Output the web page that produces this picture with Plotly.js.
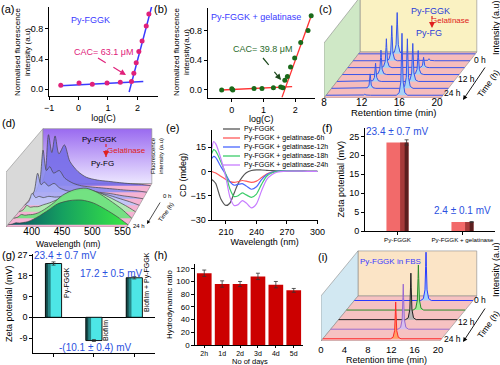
<!DOCTYPE html>
<html><head><meta charset="utf-8">
<script src="https://cdn.plot.ly/plotly-3.0.1.min.js"></script>
<style>html,body{margin:0;padding:0;background:#fff}#chart{width:500px;height:365px}</style>
</head><body><div id="chart"></div>
<script>
// ================= DATA =================
// (a) CAC of Py-FGGK
const aLogC = [-0.6, 0.02, 0.47, 0.97, 1.42, 1.80, 1.88, 1.96, 2.05, 2.16, 2.30, 2.39];
const aIntensity = [0.05, 0.08, 0.065, 0.08, 0.09, 0.10, 0.21, 0.35, 0.50, 0.64, 0.84, 1.00];
const aFitLowX = [-0.6, 2.2], aFitLowY = [0.045, 0.10];
const aFitHighX = [1.72, 2.52], aFitHighY = [-0.04, 1.15];
// (b) CAC of Py-FGGK + gelatinase
const bLogC = [-0.32, 0.0, 0.03, 0.70, 0.95, 1.31, 1.54, 1.61, 1.67, 1.75, 1.85, 1.98, 2.17, 2.40, 2.50];
const bIntensity = [0.0, 0.015, 0.0, 0.02, 0.02, 0.03, 0.04, 0.03, 0.13, 0.18, 0.31, 0.43, 0.64, 0.80, 1.00];
const bFitLowX = [-0.32, 1.9], bFitLowY = [0.0, 0.045];
const bFitHighX = [1.58, 2.52], bFitHighY = [-0.1, 1.02];
// (c) HPLC, Py-FGGK -> Py-FG with gelatinase (0 h back ... 24 h front)
const cTimesH = [0, 4, 8, 12, 16, 20, 24];
const cRtFGGK = 12.1, cRtFG = 16.05;
const cHeightFGGK = [1.0, 0.85, 0.70, 0.59, 0.44, 0.35, 0.03];
const cHeightFG = [0.0, 0.05, 0.25, 0.58, 0.92, 1.20, 1.50];
const cIntTicks = [0, 0.31, 0.62, 0.93];
const cRtTicks = [8, 12, 16, 20];
// (d) fluorescence spectra (x1e6), 0 h back ... 24 h front
const dWl = [358, 365, 371, 377, 383, 390, 400, 410, 425, 440, 460, 480, 500, 520, 540, 557];
const dSpec0 = [0, 0.5, 2.0, 1.3, 1.95, 1.25, 1.6, 0.95, 0.55, 0.33, 0.22, 0.17, 0.12, 0.08, 0.05, 0];
const dSpec1 = [0, 0.4, 1.65, 0.85, 1.0, 0.75, 0.85, 0.55, 0.35, 0.25, 0.2, 0.16, 0.12, 0.08, 0.05, 0];
const dSpec2 = [0, 0.3, 1.0, 0.55, 0.65, 0.5, 0.6, 0.42, 0.3, 0.28, 0.28, 0.25, 0.2, 0.12, 0.06, 0];
const dSpec3 = [0, 0.15, 0.47, 0.3, 0.35, 0.3, 0.35, 0.32, 0.35, 0.45, 0.5, 0.5, 0.42, 0.28, 0.14, 0];
const dSpec4 = [0, 0.08, 0.25, 0.18, 0.2, 0.2, 0.28, 0.35, 0.5, 0.7, 0.85, 0.85, 0.7, 0.48, 0.24, 0];
const dSpec5 = [0, 0.05, 0.15, 0.12, 0.14, 0.15, 0.22, 0.35, 0.6, 0.9, 1.12, 1.18, 1.0, 0.7, 0.36, 0];
const dSpec6 = [0, 0.03, 0.08, 0.07, 0.09, 0.12, 0.22, 0.35, 0.58, 0.82, 0.95, 0.97, 0.85, 0.6, 0.3, 0];
const dIntTicks = [0, 0.4, 0.8, 1.2, 1.6, 2.0];
const dIntTickText = ['0.0', '4.010<sup>5</sup>', '8.010<sup>5</sup>', '1.210<sup>6</sup>', '1.610<sup>6</sup>', '2.010<sup>6</sup>'];
const dWlTicks = [400, 450, 500, 550];
// (e) CD spectra
const eWl = [196, 198, 200, 205, 210, 214, 218, 222, 226, 230, 235, 240, 245, 250, 255, 260, 270, 280, 290, 300];
const eFGGK = [-5, -6, -7.5, -17, -21, -19.5, -13.5, -7.5, -3.5, -0.8, 0.6, 1.0, 0.9, 0.7, 0.5, 0.4, 0.3, 0.2, 0.1, 0];
const e6h = [0, -0.5, -1, -3, -5, -6.3, -6.8, -6.3, -5.6, -6, -6.8, -6, -3.8, -1.6, -0.5, 0, 0.2, 0.2, 0.1, 0];
const e12h = [8, 9.3, 8.5, 3, -2, -6.5, -8.5, -8, -7.5, -9, -11, -9.5, -5, -2, -0.5, 0.2, 0.3, 0.2, 0.1, 0];
const e18h = [11, 13.5, 12.5, 6, -2, -11, -15.5, -15, -13.2, -14.5, -16, -14, -8, -3, -1, 0, 0.3, 0.2, 0.1, 0];
const e24h = [14, 18.5, 17, 8, -4, -16, -21, -20.5, -18, -19.5, -22.5, -20, -12, -5, -2, -0.5, 0.2, 0.2, 0.1, 0];
const eNames = ['Py-FGGK', 'Py-FGGK + gelatinase-6h', 'Py-FGGK + gelatinase-12h', 'Py-FGGK + gelatinase-18h', 'Py-FGGK + gelatinase-24h'];
// (f) zeta potential
const fCats = ['Py-FGGK', 'Py-FGGK + gelatinase'];
const fZeta = [23.4, 2.4];
const fErr = [0.7, 0.1];
// (g) zeta potential with biofilm
const gCats = ['Py-FGGK', 'Biofilm', 'Biofilm + Py-FGGK'];
const gZeta = [23.4, -10.1, 17.2];
const gErr = [0.7, 0.4, 0.5];
// (h) hydrodynamic ratio
const hDays = ['2h', '1d', '2d', '3d', '4d', '5d'];
const hRatio = [113, 96, 96, 108, 95, 86];
const hErr = [5, 5, 4, 5, 5, 3];
// (i) HPLC in FBS (0 h back ... 24 h front)
const iTimesH = [0, 6, 12, 18, 24];
const iRt = [12.26, 12.30, 12.36, 12.40, 12.45];
const iHeight = [1.05, 0.98, 1.01, 0.98, 0.80];
const iIntTicks = [0, 0.37, 0.74];
const iRtTicks = [0, 4, 8, 12, 16, 20];

// ================= HELPERS =================
const W = 500, H = 365;
const FONT = 'Arial, "Liberation Sans", sans-serif';
const fx = px => px / W, fy = py => 1 - py / H;
const traces = [], shapes = [], annotations = [];

function ax(o) {
  return Object.assign({showgrid:false, zeroline:false, showline:true, linecolor:'#000', linewidth:1,
    ticks:'outside', ticklen:3, tickwidth:1, tickcolor:'#000', tickfont:{family:FONT,size:9,color:'#000'},
    fixedrange:true}, o);
}
function ttl(text, size, standoff) { return {text, font:{family:FONT,size:size||9,color:'#000'}, standoff: standoff==null?3:standoff}; }
function note(px, py, text, o) {
  o = o || {};
  return {xref:'paper', yref:'paper', x:fx(px), y:fy(py), text, showarrow:false,
    font:{family:FONT, size:o.size||9, color:o.color||'#000'}, xanchor:o.xanchor||'center', yanchor:'middle',
    textangle:o.angle||0};
}
function arrowHead(tx, ty, fromx, fromy, color, w) {
  annotations.push({xref:'paper', yref:'paper', x:fx(tx), y:fy(ty), ax:fromx-tx, ay:fromy-ty, text:'',
    showarrow:true, arrowhead:2, arrowsize:1, arrowwidth:w||1, arrowcolor:color});
}
function dashedArrow(x0, y0, x1, y1, color, dash) {
  shapes.push({type:'line', xref:'paper', yref:'paper', x0:fx(x0), y0:fy(y0), x1:fx(x1), y1:fy(y1),
    line:{color, width:1.2, dash:dash||'dash'}});
  const L = Math.hypot(x1-x0, y1-y0), ux = (x1-x0)/L, uy = (y1-y0)/L;
  arrowHead(x1, y1, x1-ux*6, y1-uy*6, color, 1.2);
}
// oblique pseudo-3D projection (front plane -> depth d in [0,1])
function makeProj(c) {
  return (x, y, d) => {
    const t = (x - c.x0) / (c.x1 - c.x0);
    const dxp = c.dL[0] + (c.dR[0]-c.dL[0])*t;
    const dyp = c.dL[1] + (c.dR[1]-c.dL[1])*t;
    return [x + d*dxp/c.pxX, y + d*dyp/c.pxY];
  };
}
function pathOf(pts) { return 'M' + pts.map(p => p[0] + ',' + p[1]).join('L') + 'Z'; }
function boxWalls(c, xa, ya, colBack, colLeft, colFloor) {
  const P = makeProj(c);
  const back = [P(c.x0,0,1), P(c.x1,0,1), P(c.x1,c.wallH,1), P(c.x0,c.wallH,1)];
  const left = [P(c.x0,0,0), P(c.x0,0,1), P(c.x0,c.wallH,1), P(c.x0,c.wallH,0)];
  const floor = [P(c.x0,0,0), P(c.x1,0,0), P(c.x1,0,1), P(c.x0,0,1)];
  const list = [];
  if (colBack) list.push([back, colBack]);
  list.push([left, colLeft]); list.push([floor, colFloor]);
  list.forEach(([pts, col]) => shapes.push({type:'path', xref:xa, yref:ya, layer:'below', path:pathOf(pts),
    fillcolor:col, line:{color:'#8a8a8a', width:0.6}}));
  return back;
}
const PEAK_TEMPLATE = [[-0.6,0],[-0.3,0.04],[-0.12,0.22],[-0.04,0.7],[0,1],[0.04,0.7],[0.12,0.22],[0.3,0.04],[0.6,0]];
function chrom(x0, x1, peaks, wScale) {
  const pts = [[x0, 0]];
  peaks.filter(p => p.h > 0).sort((a,b) => a.rt - b.rt).forEach(p => {
    PEAK_TEMPLATE.forEach(([dx, f]) => pts.push([p.rt + dx*wScale, p.h*f]));
  });
  pts.push([x1, 0]);
  return pts;
}

// ================= (a) =================
traces.push({type:'scatter', x:aFitLowX, y:aFitLowY, mode:'lines', line:{color:'#3a3aff', width:1.5}, xaxis:'x', yaxis:'y'});
traces.push({type:'scatter', x:aFitHighX, y:aFitHighY, mode:'lines', line:{color:'#3a3aff', width:1.5}, xaxis:'x', yaxis:'y'});
traces.push({type:'scatter', x:aLogC, y:aIntensity, mode:'markers', marker:{color:'#e0207a', size:5}, xaxis:'x', yaxis:'y'});
annotations.push(note(90, 20, 'Py-FGGK', {color:'#3a3aff', size:9}));
annotations.push(note(103, 52, 'CAC= 63.1 μM', {color:'#e0207a', size:9}));
annotations.push(note(23, 52, 'Normalised fluorescence<br>intensity (a.u)', {size:8, angle:-90}));
dashedArrow(98, 58, 126, 75, '#e0207a');

// ================= (b) =================
traces.push({type:'scatter', x:bFitLowX, y:bFitLowY, mode:'lines', line:{color:'#ff3030', width:1.3}, xaxis:'x2', yaxis:'y2'});
traces.push({type:'scatter', x:bFitHighX, y:bFitHighY, mode:'lines', line:{color:'#ff3030', width:1.3}, xaxis:'x2', yaxis:'y2'});
traces.push({type:'scatter', x:bLogC, y:bIntensity, mode:'markers', marker:{color:'#1a6a1a', size:5}, xaxis:'x2', yaxis:'y2'});
annotations.push(note(256, 17, 'Py-FGGK + gelatinase', {color:'#3a3aff', size:9}));
annotations.push(note(262, 49, 'CAC= 39.8 μM', {color:'#2a6a2a', size:9}));
annotations.push(note(182, 52, 'Normalized fluorescence<br>intensity(a.u)', {size:8, angle:-90}));
dashedArrow(263, 58, 281, 80, '#1e4a1e');

// ================= (c) =================
const cfgC = {x0:8, x1:20.4, pxX:9.42, pxY:41.3, dL:[36,46], dR:[36,46], wallH:1.33};
boxWalls(cfgC, 'x3', 'y3', '#faf2c2', '#cfe8c6', '#f5bcbc');
(function(){
  const P = makeProj(cfgC);
  cTimesH.forEach((t, k) => {
    const d = 0.96 - 0.15*k;
    const pts = chrom(cfgC.x0, cfgC.x1, [{rt:cRtFGGK, h:cHeightFGGK[k]}, {rt:cRtFG, h:cHeightFG[k]}], 1).map(([x,y]) => P(x,y,d));
    traces.push({type:'scatter', x:pts.map(p=>p[0]), y:pts.map(p=>p[1]), mode:'lines', fill:'toself',
      fillcolor:'rgba(160,212,250,0.95)', line:{color:'#3a55e8', width:1}, xaxis:'x3', yaxis:'y3'});
  });
})();
annotations.push(note(430, 11, 'Py-FGGK', {color:'#2a40d8', size:9}));
annotations.push(note(450, 21, 'Gelatinase', {color:'#e02020', size:8}));
annotations.push(note(429, 33, 'Py-FG', {color:'#2a40d8', size:9}));
dashedArrow(432, 16, 432, 28, '#e02020', 'dot');
annotations.push(note(394, 112.5, 'Retention time (min)', {size:9.5}));
annotations.push(note(496, 28, 'Intensity (a.u)', {size:9, angle:-90}));
annotations.push(note(480, 60, '0 h', {size:8.5}));
annotations.push(note(466, 79, '12 h', {size:8.5}));
annotations.push(note(452, 93, '24 h', {size:8.5}));
annotations.push(note(488, 84, 'Time (h)', {size:8.5, angle:-55}));
arrowHead(463, 100, 486, 66, '#000', 0.9);

// ================= (d) =================
const cfgD = {x0:357.6, x1:557, pxX:0.606, pxY:25.5, dL:[37,43.5], dR:[25,43.5], wallH:2.15};
const dBack = boxWalls(cfgD, 'x5', 'y5', null, '#d9d9d9', '#f5b3d3');
traces.push({type:'scatter', x:dBack.map(p=>p[0]).concat([dBack[0][0]]), y:dBack.map(p=>p[1]).concat([dBack[0][1]]),
  mode:'lines', line:{color:'#8a8a8a', width:0.6}, fill:'toself', fillcolor:'#c4aef6',
  fillgradient:{type:'vertical', colorscale:[[0,'#ece6ff'],[1,'#9a6af0']]}, xaxis:'x5', yaxis:'y5'});
(function(){
  const P = makeProj(cfgD);
  const spectra = [dSpec0, dSpec1, dSpec2, dSpec3, dSpec4, dSpec5, dSpec6];
  const fills = ['rgba(118,108,232,0.92)','rgba(140,140,240,0.9)','rgba(166,172,246,0.9)','rgba(190,198,250,0.9)',
                 'rgba(175,236,178,0.95)','rgba(112,226,128,0.95)', null];
  spectra.forEach((s, k) => {
    const d = 0.95 - 0.15*k;
    const pts = dWl.map((w, i) => P(w, s[i], d));
    const tr = {type:'scatter', x:pts.map(p=>p[0]), y:pts.map(p=>p[1]), mode:'lines', fill:'toself',
      line:{color:'#444', width:0.7, shape:'spline', smoothing:0.8}, xaxis:'x5', yaxis:'y5'};
    if (fills[k]) tr.fillcolor = fills[k];
    else { tr.fillcolor = '#1a9a55'; tr.fillgradient = {type:'horizontal', colorscale:[[0,'#0a4a66'],[0.45,'#15a060'],[1,'#3ae844']]}; }
    traces.push(tr);
  });
})();
annotations.push(note(99, 139, 'Py-FGGK', {size:8}));
annotations.push(note(126, 150, 'Gelatinase', {color:'#e02020', size:8}));
annotations.push(note(102, 163, 'Py-FG', {size:8}));
dashedArrow(106, 144, 106, 157, '#e02020', 'dot');
annotations.push(note(157, 156, 'Fluorescence<br>intensity (a.u)', {size:6, angle:-90}));
annotations.push(note(68, 243.5, 'Wavelength (nm)', {size:8.5}));
annotations.push(note(167, 196, '0 h', {size:6}));
annotations.push(note(139, 226, '24 h', {size:6}));
annotations.push(note(166, 212, 'Time (h)', {size:6, angle:-55}));
arrowHead(147, 224, 161, 201, '#000', 0.7);

// ================= (e) =================
const eSeries = [eFGGK, e6h, e12h, e18h, e24h];
const eColors = ['#555555', '#ff5a5a', '#4a66ff', '#3ccc6a', '#c77cff'];
eSeries.forEach((s, i) => traces.push({type:'scatter', x:eWl, y:s, mode:'lines', name:eNames[i],
  line:{color:eColors[i], width:1.2, shape:'spline', smoothing:0.7}, xaxis:'x7', yaxis:'y7'}));
eNames.forEach((n, i) => {
  const yy = 129 + i*9;
  shapes.push({type:'line', xref:'paper', yref:'paper', x0:fx(223), x1:fx(240), y0:fy(yy), y1:fy(yy), line:{color:eColors[i], width:1.3}});
  annotations.push(note(242, yy, n, {size:7, xanchor:'left'}));
});

// ================= (f) =================
traces.push({type:'bar', x:fCats, y:fZeta, width:0.34, offset:-0.17, marker:{color:'#f26a6a', line:{width:0}}, xaxis:'x8', yaxis:'y8'});
traces.push({type:'bar', x:fCats, y:fZeta, width:0.13, offset:0.04, marker:{color:'rgba(90,10,10,0.5)', line:{width:0}}, xaxis:'x8', yaxis:'y8'});
traces.push({type:'bar', x:fCats, y:fZeta, width:0.06, offset:0.11, marker:{color:'rgba(0,0,0,0.45)', line:{width:0}}, xaxis:'x8', yaxis:'y8',
  error_y:{type:'data', array:fErr, color:'#333', thickness:0.8, width:2}});
fZeta.forEach((v, i) => annotations.push({xref:'x8', yref:'y8', x:fCats[i], y:v, yshift:11, text:v + ' ± ' + fErr[i] + ' mV',
  showarrow:false, font:{family:FONT, size:10, color:'#2a50e0'}}));

// ================= (g) =================
traces.push({type:'bar', x:gCats, y:gZeta, width:0.4, offset:-0.2, marker:{color:'#4de6e6', line:{width:0}}, xaxis:'x9', yaxis:'y9'});
traces.push({type:'bar', x:gCats, y:gZeta, width:0.13, offset:-0.2, marker:{color:'rgba(0,40,40,0.5)', line:{width:0}}, xaxis:'x9', yaxis:'y9'});
traces.push({type:'bar', x:gCats, y:gZeta, width:0.06, offset:-0.2, marker:{color:'rgba(0,0,0,0.45)', line:{width:0}}, xaxis:'x9', yaxis:'y9'});
traces.push({type:'bar', x:gCats, y:gZeta, width:0.4, offset:-0.2, marker:{color:'rgba(0,0,0,0)', line:{width:0.9, color:'#000'}}, xaxis:'x9', yaxis:'y9',
  error_y:{type:'data', array:gErr, color:'#333', thickness:0.8, width:2}});
annotations.push(note(65, 255, gZeta[0] + ' ± ' + gErr[0] + ' mV', {color:'#2a50e0', size:10}));
annotations.push(note(111, 273, gZeta[2] + ' ± ' + gErr[2] + ' mV', {color:'#2a50e0', size:10}));
annotations.push(note(95, 347, '-(' + Math.abs(gZeta[1]) + ' ± ' + gErr[1] + ') mV', {color:'#2a50e0', size:10}));
annotations.push(note(67, 283, gCats[0], {size:7, angle:-90}));
annotations.push(note(105, 331, gCats[1], {size:7, angle:-90}));
annotations.push(note(147, 282, gCats[2], {size:7, angle:-90}));

// ================= (h) =================
traces.push({type:'bar', x:hDays, y:hRatio, width:0.82, marker:{color:'#cc0000', line:{width:0}}, xaxis:'x10', yaxis:'y10',
  error_y:{type:'data', array:hErr, color:'#333', thickness:0.8, width:2}});
annotations.push(note(250, 361.5, 'No of days', {size:7.5}));

// ================= (i) =================
const cfgI = {x0:0, x1:20.3, pxX:5.85, pxY:46, dL:[37,45], dR:[37,45], wallH:0.98};
boxWalls(cfgI, 'x11', 'y11', '#fbe4c6', '#d2e8f2', '#f6c2c2');
(function(){
  const P = makeProj(cfgI);
  const lineCols = ['#2a3cff', '#2a8a2a', '#222222', '#9a6ad0', '#ff2a2a'];
  const fillCols = ['rgba(160,210,255,0.95)', 'rgba(160,240,150,0.95)', 'rgba(180,180,180,0.95)', 'rgba(214,190,240,0.95)', 'rgba(255,160,96,0.95)'];
  iTimesH.forEach((t, k) => {
    const d = 0.9 - 0.2125*k;
    const pts = chrom(cfgI.x0, cfgI.x1, [{rt:iRt[k], h:iHeight[k]}], 1.5).map(([x,y]) => P(x,y,d));
    traces.push({type:'scatter', x:pts.map(p=>p[0]), y:pts.map(p=>p[1]), mode:'lines', fill:'toself',
      fillcolor:fillCols[k], line:{color:lineCols[k], width:1}, xaxis:'x11', yaxis:'y11'});
  });
})();
annotations.push(note(390, 261, 'Py-FGGK in FBS', {color:'#3a3aff', size:8}));
annotations.push(note(386, 359.5, 'Retention time (min)', {size:9}));
annotations.push(note(496, 270, 'Intensity (a.u)', {size:9, angle:-90}));
annotations.push(note(480, 300, '0 h', {size:8.5}));
annotations.push(note(466, 322, '12 h', {size:8.5}));
annotations.push(note(452, 339, '24 h', {size:8.5}));
annotations.push(note(488, 325, 'Time (h)', {size:8.5, angle:-55}));
arrowHead(463, 342, 486, 307, '#000', 0.9);

// panel labels
[['(a)',7,9],['(b)',160,9],['(c)',325,9],['(d)',8,123],['(e)',172,128],['(f)',327,128],['(g)',8,255],['(h)',160,255],['(i)',323,257]]
  .forEach(([t,x,y]) => annotations.push(note(x, y, t, {size:11})));

// ================= LAYOUT =================
const layout = {
  width:W, height:H, margin:{l:0,r:0,t:0,b:0}, showlegend:false, barmode:'overlay',
  paper_bgcolor:'#fff', plot_bgcolor:'rgba(0,0,0,0)', font:{family:FONT, size:9, color:'#000'},
  // (a)
  xaxis: ax({domain:[fx(49),fx(158)], anchor:'y', range:[-1,2.7], tickvals:[-1,0,1,2], title:ttl('log(C)',9,2)}),
  yaxis: ax({domain:[fy(96),fy(7)], anchor:'x', range:[-0.093,1.093], tickvals:[0,0.4,0.8], ticktext:['0.0','0.4','0.8']}),
  // (b)
  xaxis2: ax({domain:[fx(207.7),fx(315)], anchor:'y2', range:[-0.76,2.62], tickvals:[0,1,2], title:ttl('log(C)',9,2)}),
  yaxis2: ax({domain:[fy(97.7),fy(8)], anchor:'x2', range:[-0.104,1.104], tickvals:[0,0.4,0.8], ticktext:['0.0','0.4','0.8']}),
  // (c)
  xaxis3: ax({domain:[fx(324),fx(480)], anchor:'free', position:fy(94.5), range:[8, 8+156/9.42], tickvals:cRtTicks, showline:false, ticks:'', tickfont:{family:FONT,size:10}}),
  yaxis3: ax({domain:[fy(98),1], anchor:'x3', range:[0, 98/41.3], visible:false}),
  yaxis4: ax({overlaying:'y3', anchor:'free', position:fx(479), side:'right', range:[-46/41.3, (98-46)/41.3],
    tickvals:cIntTicks, ticktext:cIntTicks.map(v=>v.toFixed(2)), showline:false, ticklen:2}),
  // (d)
  xaxis5: ax({domain:[fx(6),fx(165)], anchor:'free', position:fy(223.5), range:[357.6, 357.6+159/0.606], tickvals:dWlTicks, showline:false, ticks:'', tickfont:{family:FONT,size:10}}),
  yaxis5: ax({domain:[fy(227),fy(118)], anchor:'x5', range:[0, 109/25.5], visible:false}),
  yaxis6: ax({overlaying:'y5', anchor:'free', position:fx(162), side:'right', range:[-43.5/25.5, (109-43.5)/25.5],
    tickvals:dIntTicks, ticktext:dIntTickText, showline:false, ticks:'', tickfont:{family:FONT,size:6.5}}),
  // (e)
  xaxis7: ax({domain:[fx(211.7),fx(317.5)], anchor:'y7', range:[196,300], tickvals:[210,240,270,300], title:ttl('Wavelength (nm)',9,2)}),
  yaxis7: ax({domain:[fy(220),fy(130)], anchor:'x7', range:[-30,25.6], tickvals:[-30,-15,0,15], title:ttl('CD (mdeg)',9,2)}),
  // (f)
  xaxis8: ax({domain:[fx(365),fx(495)], anchor:'y8', range:[-0.5,1.5], tickfont:{family:FONT,size:6.2}}),
  yaxis8: ax({domain:[fy(231),fy(127.7)], anchor:'x8', range:[0,27.3], tickvals:[0,5,10,15,20,25], title:ttl('Zeta potential (mV)',9,3)}),
  // (g)
  xaxis9: ax({domain:[fx(33.3),fx(154.5)], anchor:'y9', range:[-0.5,2.5], showticklabels:false}),
  yaxis9: ax({domain:[fy(353.3),fy(254.3)], anchor:'x9', range:[-15.65,27.4], tickvals:[-9,0,9,18,27], ticktext:['-9','0','9','18','27'],
    zeroline:true, zerolinecolor:'#000', zerolinewidth:1, title:ttl('Zeta potential (mV)',9,3)}),
  // (h)
  xaxis10: ax({domain:[fx(195.3),fx(302.7)], anchor:'y10', range:[-0.5,5.5], ticklen:2, tickfont:{family:FONT,size:7}}),
  yaxis10: ax({domain:[fy(345),fy(264)], anchor:'x10', range:[0,127.5], tickvals:[0,20,40,60,80,100,120], tickfont:{family:FONT,size:8},
    title:ttl('Hydrodynamic ratio',8,2)}),
  // (i)
  xaxis11: ax({domain:[fx(321),fx(480)], anchor:'free', position:fy(342.5), range:[0, 159/5.85], tickvals:iRtTicks, showline:false, ticks:'', tickfont:{family:FONT,size:9.5}}),
  yaxis11: ax({domain:[fy(341),fy(246)], anchor:'x11', range:[0, 95/46], visible:false}),
  yaxis12: ax({overlaying:'y11', anchor:'free', position:fx(478), side:'right', range:[-45/46, (95-45)/46],
    tickvals:iIntTicks, ticktext:iIntTicks.map(v=>v.toFixed(2)), showline:false, ticklen:2}),
  shapes, annotations
};
traces.forEach(t => { t.showlegend = false; t.hoverinfo = 'skip'; });
Plotly.newPlot('chart', traces, layout, {staticPlot:true, displayModeBar:false});
</script></body></html>
